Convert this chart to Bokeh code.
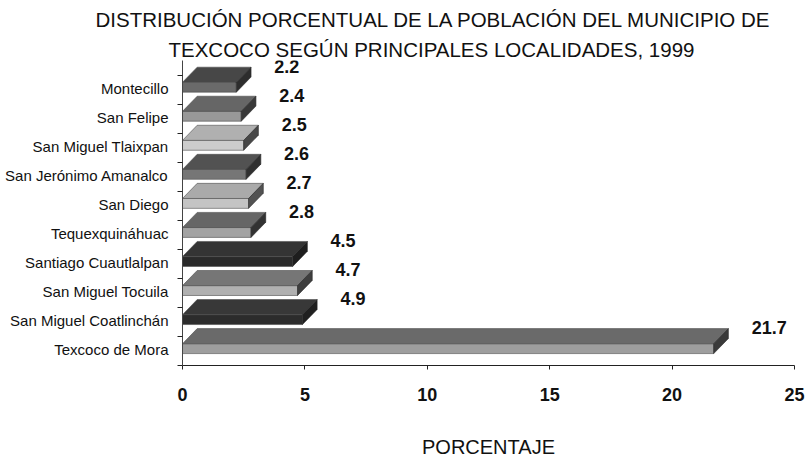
from bokeh.plotting import figure
from bokeh.models import FixedTicker, Title, ColumnDataSource
from bokeh.core.properties import value
from bokeh.embed import file_html
from bokeh.resources import INLINE

# ---- data ----
localidades = ["Texcoco de Mora", "San Miguel Coatlinchán", "San Miguel Tocuila",
               "Santiago Cuautlalpan", "Tequexquináhuac", "San Diego",
               "San Jerónimo Amanalco", "San Miguel Tlaixpan", "San Felipe", "Montecillo"]
porcentajes = [21.7, 4.9, 4.7, 4.5, 2.8, 2.7, 2.6, 2.5, 2.4, 2.2]
x_ticks = [0, 5, 10, 15, 20, 25]
titulo_1 = "DISTRIBUCIÓN PORCENTUAL DE LA POBLACIÓN DEL MUNICIPIO DE"
titulo_2 = "TEXCOCO SEGÚN PRINCIPALES LOCALIDADES, 1999"
x_etiqueta = "PORCENTAJE"

# ---- styles (greyscale 3D faces) ----
top_colors = ["#6a6a6a", "#383838", "#767676", "#343434", "#666666",
              "#aaaaaa", "#525252", "#b0b0b0", "#666666", "#474747"]
front_colors = ["#9e9e9e", "#2c2c2c", "#b0b0b0", "#2a2a2a", "#a3a3a3",
                "#c4c4c4", "#767676", "#cccccc", "#989898", "#6a6a6a"]
side_colors = ["#3a3a3a", "#202020", "#3e3e3e", "#1e1e1e", "#323232",
               "#525252", "#303030", "#474747", "#383838", "#2d2d2d"]

DX = 0.6          # depth offset along x (data units)
Y0, Y1, Y2 = 0.41, 0.75, 1.27   # front bottom, front top, back top (relative to band)
DY = Y2 - Y1
FONT = "Liberation Sans"

n = len(localidades)
ticks_major = [i + 0.55 for i in range(n)]
ticks_minor = list(range(n + 1))

p = figure(width=808, height=463, x_range=(0, 25), y_range=(0, 10.5),
           output_backend="svg", toolbar_location=None, title=None,
           min_border_left=182, min_border_right=14, min_border_top=58,
           min_border_bottom=98)
p.outline_line_color = None
p.xgrid.grid_line_color = None
p.ygrid.grid_line_color = None
p.background_fill_color = "white"

fx, fy, tx, ty, sx, sy = [], [], [], [], [], []
for i, v in enumerate(porcentajes):
    fx.append([0, v, v, 0]); fy.append([i + Y0, i + Y0, i + Y1, i + Y1])
    tx.append([0, v, v + DX, DX]); ty.append([i + Y1, i + Y1, i + Y2, i + Y2])
    sx.append([v, v + DX, v + DX, v]); sy.append([i + Y0, i + Y0 + DY, i + Y2, i + Y1])

p.patches(xs=fx, ys=fy, fill_color=front_colors, line_color="#4d4d4d", line_width=0.6)
p.patches(xs=tx, ys=ty, fill_color=top_colors, line_color="#4d4d4d", line_width=0.6)
p.patches(xs=sx, ys=sy, fill_color=side_colors, line_color="#2a2a2a", line_width=0.6)

# data labels
lab = ColumnDataSource(dict(x=[v + 1.55 for v in porcentajes],
                            y=[i + 1.3 for i in range(n)],
                            t=[f"{v:.1f}" for v in porcentajes]))
p.text(x="x", y="y", text="t", source=lab, text_font=value(FONT),
       text_font_size="18px", text_font_style="bold", text_color="#111111",
       text_align="left", text_baseline="middle")

# x axis
xa = p.xaxis[0]
xa.ticker = FixedTicker(ticks=x_ticks)
xa.axis_label = x_etiqueta
xa.axis_label_text_font = FONT
xa.axis_label_text_font_size = "20px"
xa.axis_label_text_font_style = "normal"
xa.axis_label_text_color = "#111111"
xa.axis_label_standoff = 32
xa.major_label_text_font = FONT
xa.major_label_text_font_size = "18px"
xa.major_label_text_font_style = "bold"
xa.major_label_text_color = "#111111"
xa.major_label_standoff = 18
xa.major_tick_in = 0
xa.major_tick_out = 4
xa.minor_tick_line_color = None
xa.axis_line_color = "#222222"
xa.major_tick_line_color = "#222222"

# y axis (categories)
ya = p.yaxis[0]
ya.ticker = FixedTicker(ticks=ticks_major, minor_ticks=ticks_minor)
ya.major_label_overrides = {t: name for t, name in zip(ticks_major, localidades)}
ya.major_label_text_font = FONT
ya.major_label_text_font_size = "15px"
ya.major_label_text_color = "#111111"
ya.major_label_standoff = 9
ya.major_tick_in = 0
ya.major_tick_out = 0
ya.minor_tick_in = 0
ya.minor_tick_out = 5
ya.minor_tick_line_color = "#222222"
ya.axis_line_color = "#444444"

# two title lines (second added first so it sits nearest the plot)
t2 = Title(text=titulo_2, align="left", offset=-14, text_font=FONT,
           text_font_size="20.5px", text_font_style="normal", text_color="#111111",
           standoff=0)
t1 = Title(text=titulo_1, align="left", offset=-87, text_font=FONT,
           text_font_size="20.5px", text_font_style="normal", text_color="#111111",
           standoff=10)
p.add_layout(t2, "above")
p.add_layout(t1, "above")

open("out.html", "w").write(file_html(p, INLINE))
